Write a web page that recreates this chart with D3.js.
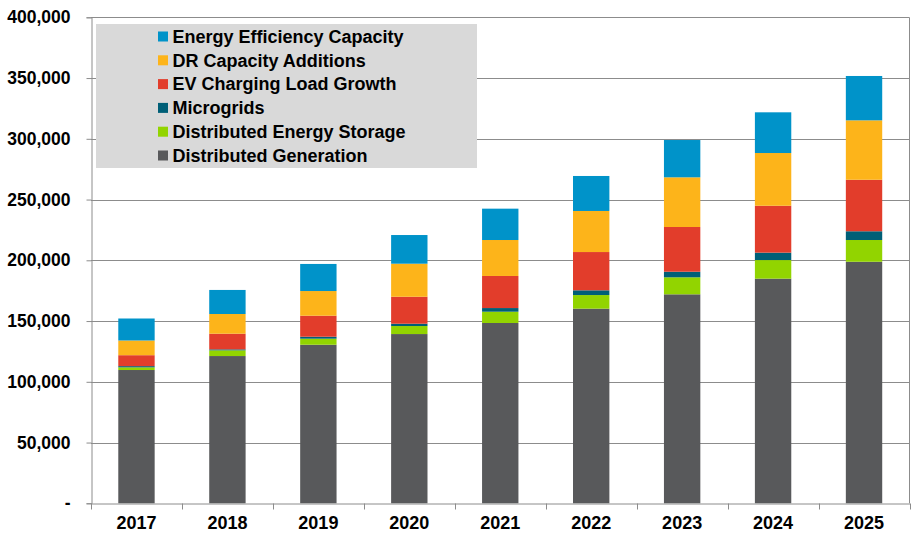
<!DOCTYPE html>
<html>
<head>
<meta charset="utf-8">
<script src="https://cdn.jsdelivr.net/npm/d3@7"></script>
<style>
  html, body { margin: 0; padding: 0; background: #fff; }
  svg { display: block; font-family: Arial, "Liberation Sans", sans-serif; }
</style>
</head>
<body>
<svg id="chart" width="924" height="536"></svg>
<script>
const years = ["2017","2018","2019","2020","2021","2022","2023","2024","2025"];
const seriesNames = ["Distributed Generation","Distributed Energy Storage","Microgrids","EV Charging Load Growth","DR Capacity Additions","Energy Efficiency Capacity"];
const distributedGeneration = [109700,121200,130500,139300,148400,160200,172000,184900,198800];
const distributedStorage    = [2200,4700,5000,6600,9300,11200,14000,15300,17900];
const microgrids            = [1000,800,1600,1900,3000,3900,4600,6100,7200];
const evCharging            = [9000,12900,17300,22200,26400,31500,36800,38600,42400];
const drCapacity            = [12100,16200,20300,27200,29600,33800,40900,43400,48900];
const energyEfficiency      = [18100,19800,22300,23600,25800,28800,30700,33500,36500];
const seriesColors = ["#58595b","#92d400","#005f77","#e23d2b","#fdb41a","#0093c9"];
const yTicks = [0,50000,100000,150000,200000,250000,300000,350000,400000];

const seriesValues = [distributedGeneration, distributedStorage, microgrids, evCharging, drCapacity, energyEfficiency];
const rows = years.map((yr, i) => {
  const r = { year: yr };
  seriesNames.forEach((n, k) => r[n] = seriesValues[k][i]);
  return r;
});

const svg = d3.select("#chart");
const mLeft = 91, mRight = 909.5, mTop = 17.3, mBottom = 503.3;

const x = d3.scaleBand().domain(years).range([mLeft, mRight]).paddingInner(0.6).paddingOuter(0.3);
const y = d3.scaleLinear().domain([0, 400000]).range([mBottom, mTop]);

// gridlines
svg.append("g").selectAll("line").data(yTicks.filter(d => d > 0)).join("line")
  .attr("x1", mLeft).attr("x2", mRight)
  .attr("y1", d => Math.round(y(d)) + 0.5).attr("y2", d => Math.round(y(d)) + 0.5)
  .attr("stroke", "#8c8c8c").attr("stroke-width", 1);

// right border
svg.append("line").attr("x1", mRight).attr("x2", mRight).attr("y1", Math.round(mTop) + 0.5).attr("y2", mBottom)
  .attr("stroke", "#8c8c8c").attr("stroke-width", 1);

// stacked bars
const stack = d3.stack().keys(seriesNames)(rows);
const layers = svg.append("g").selectAll("g").data(stack).join("g")
  .attr("fill", (d, i) => seriesColors[i]);
layers.selectAll("rect").data(d => d).join("rect")
  .attr("x", d => x(d.data.year))
  .attr("width", x.bandwidth())
  .attr("y", d => y(d[1]))
  .attr("height", d => y(d[0]) - y(d[1]));

// y axis
const fmt = d => d === 0 ? "-" : d3.format(",")(d);
const yAxis = svg.append("g").attr("transform", `translate(${mLeft + 0.5},0)`)
  .call(d3.axisLeft(y).tickValues(yTicks).tickFormat(fmt).tickSize(5).tickPadding(16));
yAxis.select(".domain").attr("stroke", "#8c8c8c");
yAxis.selectAll(".tick line").attr("stroke", "#8c8c8c");
yAxis.selectAll("text").attr("font-size", "17.5px").attr("font-weight", "bold").attr("fill", "#000")
  .attr("font-family", "Arial, 'Liberation Sans', sans-serif");

// x axis
const xAxis = svg.append("g").attr("transform", `translate(0,${Math.round(mBottom) + 0.5})`)
  .call(d3.axisBottom(x).tickSize(0).tickPadding(13));
xAxis.select(".domain").attr("stroke", "#8c8c8c");
xAxis.selectAll("text").attr("font-size", "18px").attr("font-weight", "bold").attr("fill", "#000")
  .attr("font-family", "Arial, 'Liberation Sans', sans-serif");
// category boundary ticks
const step = x.step();
const bounds = d3.range(years.length + 1).map(i => mLeft + i * step);
xAxis.append("g").selectAll("line").data(bounds).join("line")
  .attr("x1", d => Math.round(d) + 0.5).attr("x2", d => Math.round(d) + 0.5)
  .attr("y1", 0).attr("y2", 6).attr("stroke", "#8c8c8c");

// legend
const lg = svg.append("g");
lg.append("rect").attr("x", 96).attr("y", 24).attr("width", 381).attr("height", 144).attr("fill", "#d9d9d9");
const legendOrder = seriesNames.map((n, i) => ({ name: n, color: seriesColors[i] })).reverse();
const item = lg.selectAll("g.item").data(legendOrder).join("g").attr("class", "item")
  .attr("transform", (d, i) => `translate(158,${36.5 + i * 23.8})`);
item.append("rect").attr("x", 0).attr("y", -5).attr("width", 10).attr("height", 10).attr("fill", d => d.color);
item.append("text").attr("x", 14.5).attr("y", 0).attr("dy", "0.35em")
  .attr("font-size", "18px").attr("font-weight", "bold").attr("fill", "#000")
  .text(d => d.name);
</script>
</body>
</html>
